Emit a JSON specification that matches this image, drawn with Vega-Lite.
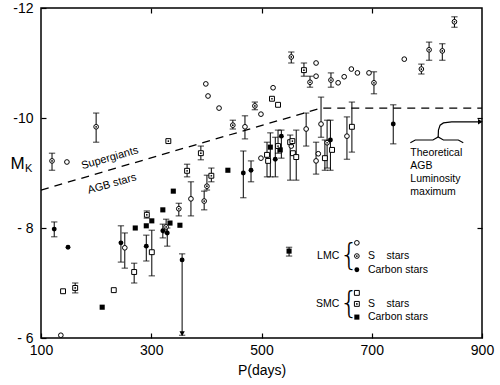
{
  "$schema": "https://vega.github.io/schema/vega-lite/v6.json",
  "width": 441,
  "height": 330,
  "autosize": {"type": "none"},
  "padding": {"left": 41, "top": 8, "right": 18, "bottom": 47},
  "background": "white",
  "config": {
    "view": {"stroke": "black", "strokeWidth": 1.5},
    "font": "Liberation Sans",
    "axis": {"grid": false, "domain": false, "tickColor": "black", "tickWidth": 1.2, "labelColor": "black", "titleColor": "black", "titleFontWeight": "normal"}
  },
  "datasets": {
    "stars": [
      {"P": 120, "M": -9.22, "lo": -9.36, "hi": -9.05, "type": "LMC S"},
      {"P": 147, "M": -9.2, "type": "LMC M"},
      {"P": 200, "M": -9.84, "lo": -10.09, "hi": -9.56, "type": "LMC S"},
      {"P": 124, "M": -7.98, "lo": -8.11, "hi": -7.84, "type": "LMC C"},
      {"P": 149, "M": -7.65, "type": "LMC C"},
      {"P": 140, "M": -6.85, "type": "SMC M"},
      {"P": 162, "M": -6.91, "lo": -7.0, "hi": -6.82, "type": "SMC S"},
      {"P": 232, "M": -6.87, "type": "SMC M"},
      {"P": 211, "M": -6.56, "type": "SMC C"},
      {"P": 136, "M": -6.05, "type": "LMC M"},
      {"P": 245, "M": -7.73, "lo": -8.04, "hi": -7.38, "type": "LMC C"},
      {"P": 252, "M": -7.64, "lo": -7.91, "hi": -7.27, "type": "LMC M"},
      {"P": 271, "M": -8.0, "type": "SMC C"},
      {"P": 269, "M": -7.2, "lo": -7.36, "hi": -7.0, "type": "SMC M"},
      {"P": 291, "M": -8.04, "type": "SMC C"},
      {"P": 291, "M": -7.67, "lo": -7.87, "hi": -7.4, "type": "LMC C"},
      {"P": 301, "M": -7.56, "lo": -7.96, "hi": -7.13, "type": "SMC M"},
      {"P": 292, "M": -8.24, "lo": -8.31, "hi": -8.18, "type": "SMC S"},
      {"P": 301, "M": -8.13, "type": "SMC C"},
      {"P": 321, "M": -8.33, "type": "SMC C"},
      {"P": 340, "M": -8.67, "type": "SMC C"},
      {"P": 352, "M": -8.05, "type": "SMC C"},
      {"P": 350, "M": -8.35, "lo": -8.45, "hi": -8.22, "type": "LMC S"},
      {"P": 321, "M": -7.95, "lo": -8.07, "hi": -7.82, "type": "LMC C"},
      {"P": 327, "M": -8.02, "lo": -8.16, "hi": -7.91, "type": "LMC S"},
      {"P": 329, "M": -7.91, "lo": -8.0, "hi": -7.67, "type": "LMC C"},
      {"P": 334, "M": -8.09, "type": "SMC C"},
      {"P": 356, "M": -7.42, "lo": -7.53, "hi": -6.05, "type": "LMC C"},
      {"P": 423, "M": -10.18, "type": "LMC M"},
      {"P": 488, "M": -10.22, "lo": -10.29, "hi": -10.15, "type": "LMC S"},
      {"P": 499, "M": -10.07, "type": "LMC M"},
      {"P": 448, "M": -9.87, "lo": -9.96, "hi": -9.8, "type": "LMC S"},
      {"P": 470, "M": -9.84, "lo": -10.04, "hi": -9.62, "type": "LMC M"},
      {"P": 331, "M": -9.58, "type": "SMC S"},
      {"P": 390, "M": -9.36, "lo": -9.49, "hi": -9.24, "type": "SMC S"},
      {"P": 499, "M": -9.27, "type": "LMC M"},
      {"P": 365, "M": -9.04, "lo": -9.16, "hi": -8.93, "type": "SMC S"},
      {"P": 439, "M": -9.05, "type": "SMC C"},
      {"P": 467, "M": -9.0, "lo": -9.4, "hi": -8.55, "type": "LMC C"},
      {"P": 481, "M": -9.05, "lo": -9.22, "hi": -8.84, "type": "LMC C"},
      {"P": 409, "M": -8.95, "lo": -9.09, "hi": -8.84, "type": "SMC S"},
      {"P": 401, "M": -8.76, "lo": -8.96, "hi": -8.69, "type": "LMC S"},
      {"P": 372, "M": -8.53, "lo": -8.84, "hi": -8.22, "type": "LMC M"},
      {"P": 396, "M": -8.49, "lo": -8.67, "hi": -8.33, "type": "LMC S"},
      {"P": 399, "M": -10.62, "type": "LMC M"},
      {"P": 403, "M": -10.4, "type": "LMC M"},
      {"P": 521, "M": -10.55, "type": "LMC M"},
      {"P": 519, "M": -10.35, "type": "SMC S"},
      {"P": 530, "M": -10.24, "type": "SMC M"},
      {"P": 554, "M": -11.11, "lo": -11.2, "hi": -11.0, "type": "LMC S"},
      {"P": 577, "M": -10.87, "lo": -11.0, "hi": -10.76, "type": "SMC S"},
      {"P": 599, "M": -11.0, "type": "LMC M"},
      {"P": 588, "M": -10.65, "lo": -10.76, "hi": -10.56, "type": "LMC S"},
      {"P": 599, "M": -10.76, "type": "LMC M"},
      {"P": 626, "M": -10.69, "lo": -10.82, "hi": -10.56, "type": "LMC S"},
      {"P": 639, "M": -10.64, "type": "LMC M"},
      {"P": 650, "M": -10.75, "type": "LMC M"},
      {"P": 663, "M": -10.89, "type": "LMC M"},
      {"P": 674, "M": -10.82, "type": "LMC M"},
      {"P": 695, "M": -10.82, "type": "LMC M"},
      {"P": 704, "M": -10.64, "lo": -10.84, "hi": -10.44, "type": "LMC S"},
      {"P": 759, "M": -11.07, "type": "LMC M"},
      {"P": 790, "M": -10.89, "lo": -10.98, "hi": -10.8, "type": "LMC S"},
      {"P": 804, "M": -11.24, "lo": -11.38, "hi": -11.05, "type": "LMC S"},
      {"P": 828, "M": -11.22, "lo": -11.35, "hi": -11.05, "type": "LMC S"},
      {"P": 850, "M": -11.75, "lo": -11.84, "hi": -11.65, "type": "LMC S"},
      {"P": 739, "M": -9.89, "lo": -10.24, "hi": -9.53, "type": "LMC C"},
      {"P": 581, "M": -9.8, "lo": -10.09, "hi": -9.49, "type": "LMC M"},
      {"P": 608, "M": -9.89, "lo": -10.38, "hi": -9.65, "type": "LMC M"},
      {"P": 655, "M": -9.67, "lo": -10.02, "hi": -9.25, "type": "LMC M"},
      {"P": 664, "M": -9.84, "lo": -10.29, "hi": -9.38, "type": "SMC M"},
      {"P": 510, "M": -9.33, "lo": -9.56, "hi": -8.93, "type": "SMC M"},
      {"P": 512, "M": -9.22, "type": "SMC M"},
      {"P": 516, "M": -9.47, "lo": -9.73, "hi": -8.93, "type": "SMC C"},
      {"P": 525, "M": -9.25, "lo": -9.65, "hi": -8.93, "type": "LMC C"},
      {"P": 530, "M": -9.49, "lo": -9.78, "hi": -9.36, "type": "SMC S"},
      {"P": 534, "M": -9.42, "type": "SMC C"},
      {"P": 536, "M": -9.67, "lo": -9.78, "hi": -9.27, "type": "LMC C"},
      {"P": 552, "M": -9.56, "lo": -9.69, "hi": -8.87, "type": "SMC M"},
      {"P": 556, "M": -9.58, "type": "SMC S"},
      {"P": 554, "M": -9.49, "type": "LMC M"},
      {"P": 557, "M": -9.36, "type": "SMC M"},
      {"P": 563, "M": -9.29, "lo": -9.78, "hi": -8.87, "type": "SMC M"},
      {"P": 599, "M": -9.22, "lo": -9.56, "hi": -8.98, "type": "LMC M"},
      {"P": 603, "M": -9.35, "type": "LMC M"},
      {"P": 615, "M": -9.27, "lo": -9.6, "hi": -9.05, "type": "SMC M"},
      {"P": 619, "M": -9.55, "lo": -9.96, "hi": -9.09, "type": "LMC S"},
      {"P": 625, "M": -9.6, "lo": -9.96, "hi": -9.05, "type": "LMC C"},
      {"P": 628, "M": -9.42, "type": "SMC M"},
      {"P": 550, "M": -7.58, "lo": -7.65, "hi": -7.49, "type": "SMC C"},
      {"P": 673, "M": -7.73, "type": "LMC M"},
      {"P": 673, "M": -7.49, "type": "LMC S"},
      {"P": 673, "M": -7.24, "type": "LMC C"},
      {"P": 673, "M": -6.82, "type": "SMC M"},
      {"P": 673, "M": -6.62, "type": "SMC S"},
      {"P": 673, "M": -6.38, "type": "SMC C"}
    ],
    "dashed": [
      {"P": 100, "M": -8.69},
      {"P": 608, "M": -10.18},
      {"P": 900, "M": -10.18}
    ],
    "curves": [
      {"g": "brace", "o": 1, "P": 770, "M": -9.55},
      {"g": "brace", "o": 2, "P": 779, "M": -9.6},
      {"g": "brace", "o": 3, "P": 811, "M": -9.6},
      {"g": "brace", "o": 4, "P": 820.5, "M": -9.655},
      {"g": "brace", "o": 5, "P": 830, "M": -9.6},
      {"g": "brace", "o": 6, "P": 857, "M": -9.6},
      {"g": "brace", "o": 7, "P": 866, "M": -9.55},
      {"g": "conn", "o": 1, "P": 820.5, "M": -9.655},
      {"g": "conn", "o": 2, "P": 821, "M": -9.78},
      {"g": "conn", "o": 3, "P": 824, "M": -9.87},
      {"g": "conn", "o": 4, "P": 830, "M": -9.91},
      {"g": "conn", "o": 5, "P": 845, "M": -9.93},
      {"g": "conn", "o": 6, "P": 897, "M": -9.93}
    ],
    "arrows": [
      {"kind": "down", "P": 356, "M": -6.08},
      {"kind": "right", "P": 897, "M": -9.93}
    ],
    "texts": [
      {"g": "rot", "P": 225, "M": -9.27, "t": "Supergiants"},
      {"g": "rot", "P": 229, "M": -8.8, "t": "AGB stars"},
      {"g": "left", "P": 770, "M": -9.36, "t": "Theoretical"},
      {"g": "left", "P": 770, "M": -9.13, "t": "AGB"},
      {"g": "left", "P": 770, "M": -8.89, "t": "Luminosity"},
      {"g": "left", "P": 770, "M": -8.65, "t": "maximum"},
      {"g": "left", "P": 693, "M": -7.49, "t": "S\u00a0\u00a0\u00a0 stars"},
      {"g": "left", "P": 693, "M": -7.24, "t": "Carbon stars"},
      {"g": "left", "P": 693, "M": -6.62, "t": "S\u00a0\u00a0\u00a0 stars"},
      {"g": "left", "P": 693, "M": -6.38, "t": "Carbon stars"},
      {"g": "right", "P": 641, "M": -7.49, "t": "LMC"},
      {"g": "right", "P": 641, "M": -6.62, "t": "SMC"},
      {"g": "brace", "P": 659, "M": -7.49, "t": "{"},
      {"g": "brace", "P": 659, "M": -6.62, "t": "{"},
      {"g": "sub", "P": 100, "M": -9.08, "t": "K"}
    ]
  },
  "layer": [
    {
      "data": {"name": "dashed"},
      "mark": {"type": "line", "color": "black", "strokeWidth": 1.3, "strokeDash": [8, 6]},
      "encoding": {
        "x": {"field": "P", "type": "quantitative", "scale": {"domain": [100, 900], "nice": false, "zero": false},
          "axis": {"values": [100, 300, 500, 700, 900], "tickSize": -5, "labelPadding": 10, "labelFontSize": 14, "labelFlush": false, "title": "P(days)", "titleFontSize": 14, "titlePadding": 6}},
        "y": {"field": "M", "type": "quantitative", "scale": {"domain": [-12, -6], "reverse": true, "nice": false, "zero": false},
          "axis": {"values": [-12, -10, -8, -6], "tickSize": -5, "labelPadding": 13, "labelFontSize": 14, "labelFlush": false,
            "labelExpr": "datum.value <= -10 ? '-' + abs(datum.value) : '- ' + abs(datum.value)",
            "title": "M", "titleAngle": 0, "titleFontSize": 17, "titleX": -31, "titleY": 155, "titleAlign": "left", "titleBaseline": "middle"}}
      }
    },
    {
      "data": {"name": "stars"},
      "transform": [{"filter": "isValid(datum.lo)"}],
      "mark": {"type": "rule", "color": "black", "strokeWidth": 1},
      "encoding": {
        "x": {"field": "P", "type": "quantitative", "scale": {"domain": [100, 900], "nice": false, "zero": false},
          "axis": {"orient": "top", "values": [300, 500, 700], "tickSize": -5, "labels": false, "title": null}},
        "y": {"field": "lo", "type": "quantitative", "scale": {"domain": [-12, -6], "reverse": true, "nice": false, "zero": false},
          "axis": {"orient": "right", "values": [-10, -8], "tickSize": -5, "labels": false, "title": null}},
        "y2": {"field": "hi"}
      }
    },
    {
      "data": {"name": "stars"},
      "transform": [{"filter": "isValid(datum.lo)"}, {"fold": ["lo", "hi"], "as": ["end", "val"]}],
      "mark": {"type": "point", "shape": "stroke", "size": 40, "color": "black", "strokeWidth": 1.1},
      "encoding": {
        "x": {"field": "P", "type": "quantitative", "scale": {"domain": [100, 900], "nice": false, "zero": false}, "axis": null},
        "y": {"field": "val", "type": "quantitative", "scale": {"domain": [-12, -6], "reverse": true, "nice": false, "zero": false}, "axis": null}
      }
    },
    {
      "data": {"name": "stars"},
      "transform": [{"filter": "datum.type == 'LMC M' || datum.type == 'LMC S'"}],
      "mark": {"type": "point", "shape": "circle", "filled": false, "size": 22, "color": "black", "fill": "white", "fillOpacity": 1, "strokeWidth": 1},
      "encoding": {
        "x": {"field": "P", "type": "quantitative", "scale": {"domain": [100, 900], "nice": false, "zero": false}, "axis": null},
        "y": {"field": "M", "type": "quantitative", "scale": {"domain": [-12, -6], "reverse": true, "nice": false, "zero": false}, "axis": null}
      }
    },
    {
      "data": {"name": "stars"},
      "transform": [{"filter": "datum.type == 'SMC M' || datum.type == 'SMC S'"}],
      "mark": {"type": "point", "shape": "square", "filled": false, "size": 24, "color": "black", "fill": "white", "fillOpacity": 1, "strokeWidth": 1},
      "encoding": {
        "x": {"field": "P", "type": "quantitative", "scale": {"domain": [100, 900], "nice": false, "zero": false}, "axis": null},
        "y": {"field": "M", "type": "quantitative", "scale": {"domain": [-12, -6], "reverse": true, "nice": false, "zero": false}, "axis": null}
      }
    },
    {
      "data": {"name": "stars"},
      "transform": [{"filter": "datum.type == 'LMC C'"}],
      "mark": {"type": "point", "shape": "circle", "filled": true, "size": 24, "color": "black", "opacity": 1},
      "encoding": {
        "x": {"field": "P", "type": "quantitative", "scale": {"domain": [100, 900], "nice": false, "zero": false}, "axis": null},
        "y": {"field": "M", "type": "quantitative", "scale": {"domain": [-12, -6], "reverse": true, "nice": false, "zero": false}, "axis": null}
      }
    },
    {
      "data": {"name": "stars"},
      "transform": [{"filter": "datum.type == 'SMC C'"}],
      "mark": {"type": "point", "shape": "square", "filled": true, "size": 26, "color": "black", "opacity": 1},
      "encoding": {
        "x": {"field": "P", "type": "quantitative", "scale": {"domain": [100, 900], "nice": false, "zero": false}, "axis": null},
        "y": {"field": "M", "type": "quantitative", "scale": {"domain": [-12, -6], "reverse": true, "nice": false, "zero": false}, "axis": null}
      }
    },
    {
      "data": {"name": "stars"},
      "transform": [{"filter": "datum.type == 'LMC S' || datum.type == 'SMC S'"}],
      "mark": {"type": "point", "shape": "circle", "filled": true, "size": 3, "color": "black", "opacity": 1},
      "encoding": {
        "x": {"field": "P", "type": "quantitative", "scale": {"domain": [100, 900], "nice": false, "zero": false}, "axis": null},
        "y": {"field": "M", "type": "quantitative", "scale": {"domain": [-12, -6], "reverse": true, "nice": false, "zero": false}, "axis": null}
      }
    },
    {
      "data": {"name": "curves"},
      "mark": {"type": "line", "color": "black", "strokeWidth": 1.2},
      "encoding": {
        "x": {"field": "P", "type": "quantitative", "scale": {"domain": [100, 900], "nice": false, "zero": false}, "axis": null},
        "y": {"field": "M", "type": "quantitative", "scale": {"domain": [-12, -6], "reverse": true, "nice": false, "zero": false}, "axis": null},
        "detail": {"field": "g"},
        "order": {"field": "o", "type": "quantitative"}
      }
    },
    {
      "data": {"name": "arrows"},
      "transform": [{"filter": "datum.kind == 'down'"}],
      "mark": {"type": "point", "shape": "triangle-down", "filled": true, "size": 28, "color": "black", "opacity": 1},
      "encoding": {
        "x": {"field": "P", "type": "quantitative", "scale": {"domain": [100, 900], "nice": false, "zero": false}, "axis": null},
        "y": {"field": "M", "type": "quantitative", "scale": {"domain": [-12, -6], "reverse": true, "nice": false, "zero": false}, "axis": null}
      }
    },
    {
      "data": {"name": "arrows"},
      "transform": [{"filter": "datum.kind == 'right'"}],
      "mark": {"type": "point", "shape": "triangle-right", "filled": true, "size": 30, "color": "black", "opacity": 1},
      "encoding": {
        "x": {"field": "P", "type": "quantitative", "scale": {"domain": [100, 900], "nice": false, "zero": false}, "axis": null},
        "y": {"field": "M", "type": "quantitative", "scale": {"domain": [-12, -6], "reverse": true, "nice": false, "zero": false}, "axis": null}
      }
    },
    {
      "data": {"name": "texts"},
      "transform": [{"filter": "datum.g == 'rot'"}],
      "mark": {"type": "text", "fontSize": 11, "angle": 344, "align": "center", "baseline": "middle", "color": "black"},
      "encoding": {
        "x": {"field": "P", "type": "quantitative", "scale": {"domain": [100, 900], "nice": false, "zero": false}, "axis": null},
        "y": {"field": "M", "type": "quantitative", "scale": {"domain": [-12, -6], "reverse": true, "nice": false, "zero": false}, "axis": null},
        "text": {"field": "t"}
      }
    },
    {
      "data": {"name": "texts"},
      "transform": [{"filter": "datum.g == 'left'"}],
      "mark": {"type": "text", "fontSize": 10.5, "align": "left", "baseline": "middle", "color": "black"},
      "encoding": {
        "x": {"field": "P", "type": "quantitative", "scale": {"domain": [100, 900], "nice": false, "zero": false}, "axis": null},
        "y": {"field": "M", "type": "quantitative", "scale": {"domain": [-12, -6], "reverse": true, "nice": false, "zero": false}, "axis": null},
        "text": {"field": "t"}
      }
    },
    {
      "data": {"name": "texts"},
      "transform": [{"filter": "datum.g == 'right'"}],
      "mark": {"type": "text", "fontSize": 10.5, "align": "right", "baseline": "middle", "color": "black"},
      "encoding": {
        "x": {"field": "P", "type": "quantitative", "scale": {"domain": [100, 900], "nice": false, "zero": false}, "axis": null},
        "y": {"field": "M", "type": "quantitative", "scale": {"domain": [-12, -6], "reverse": true, "nice": false, "zero": false}, "axis": null},
        "text": {"field": "t"}
      }
    },
    {
      "data": {"name": "texts"},
      "transform": [{"filter": "datum.g == 'brace'"}],
      "mark": {"type": "text", "fontSize": 30, "font": "DejaVu Sans", "fontWeight": 200, "align": "center", "baseline": "middle", "color": "black"},
      "encoding": {
        "x": {"field": "P", "type": "quantitative", "scale": {"domain": [100, 900], "nice": false, "zero": false}, "axis": null},
        "y": {"field": "M", "type": "quantitative", "scale": {"domain": [-12, -6], "reverse": true, "nice": false, "zero": false}, "axis": null},
        "text": {"field": "t"}
      }
    },
    {
      "data": {"name": "texts"},
      "transform": [{"filter": "datum.g == 'sub'"}],
      "mark": {"type": "text", "fontSize": 11, "align": "left", "baseline": "middle", "dx": -16, "color": "black", "clip": false},
      "encoding": {
        "x": {"field": "P", "type": "quantitative", "scale": {"domain": [100, 900], "nice": false, "zero": false}, "axis": null},
        "y": {"field": "M", "type": "quantitative", "scale": {"domain": [-12, -6], "reverse": true, "nice": false, "zero": false}, "axis": null},
        "text": {"field": "t"}
      }
    }
  ],
  "resolve": {"axis": {"x": "independent", "y": "independent"}}
}
